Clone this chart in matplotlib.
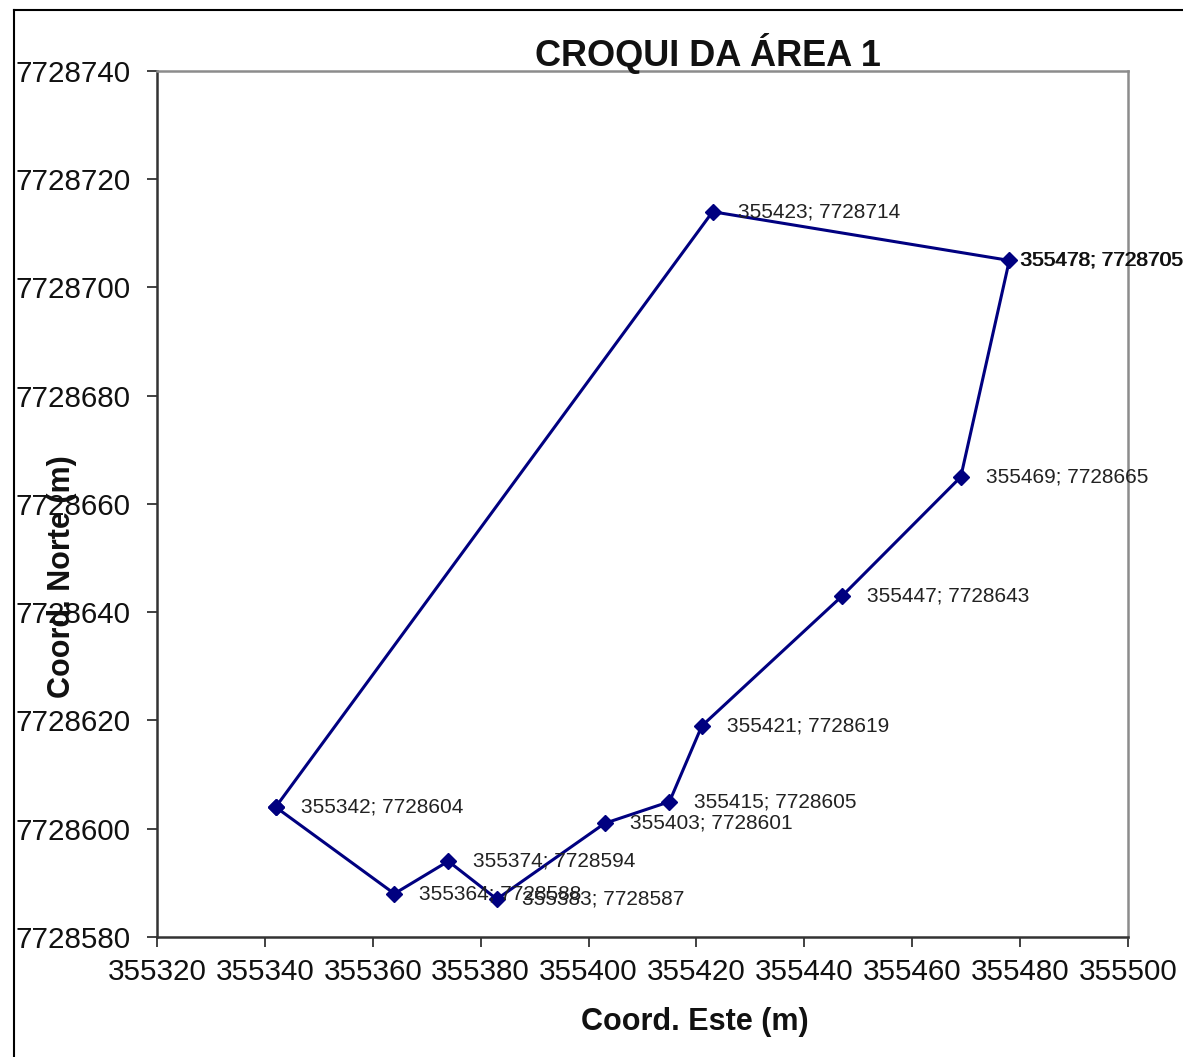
import matplotlib
matplotlib.use('Agg')
import matplotlib.pyplot as plt
from matplotlib.lines import Line2D

plt.rcParams['font.family'] = ['Liberation Sans', 'DejaVu Sans']

# vertices of the polygon (closed back to the first point)
este = [355342, 355364, 355374, 355383, 355403, 355415, 355421, 355447, 355469, 355478, 355423, 355342]
norte = [7728604, 7728588, 7728594, 7728587, 7728601, 7728605, 7728619, 7728643, 7728665, 7728705, 7728714, 7728604]

xticks = list(range(355320, 355501, 20))
yticks = list(range(7728580, 7728741, 20))

fig = plt.figure(figsize=(11.83, 10.57), dpi=100)
ax = fig.add_axes([157 / 1183, 1 - 937 / 1057, 971 / 1183, 866 / 1057])

ax.plot(este, norte, color='#000080', lw=2.2, marker='D', markersize=8,
        markerfacecolor='#000080', markeredgecolor='#000080')

for x, y in zip(este[:-1], norte[:-1]):
    txt = '%d; %d' % (x, y)
    if x == 355478:
        # this label sits closer to its point and is drawn twice, so it looks heavier
        for dx in (8, 8.6):
            ax.annotate(txt, (x, y), xytext=(dx, 0), textcoords='offset points',
                        va='center', ha='left', fontsize=15, color='#111111')
    else:
        ax.annotate(txt, (x, y), xytext=(18, 0), textcoords='offset points',
                    va='center', ha='left', fontsize=15, color='#222222')

ax.set_xlim(355320, 355500)
ax.set_ylim(7728580, 7728740)
ax.set_xticks(xticks)
ax.set_yticks(yticks)
ax.ticklabel_format(useOffset=False, style='plain')
ax.tick_params(axis='both', direction='out', length=7, width=1.3, labelsize=21.3,
               colors='#333333', labelcolor='#111111')
ax.tick_params(axis='x', pad=8)
ax.tick_params(axis='y', pad=12)

ax.spines['left'].set_color('#333333')
ax.spines['bottom'].set_color('#333333')
ax.spines['top'].set_color('#8c8c8c')
ax.spines['right'].set_color('#8c8c8c')
for s in ax.spines.values():
    s.set_linewidth(1.8)

fig.text(708 / 1183, 1 - 53 / 1057, 'CROQUI DA ÁREA 1', ha='center', va='center',
         fontsize=26, fontweight='bold', color='#111111')
fig.text(695 / 1183, 1 - 1022 / 1057, 'Coord. Este (m)', ha='center', va='center',
         fontsize=22, fontweight='bold', color='#111111')
fig.text(62 / 1183, 1 - 577 / 1057, 'Coord. Norte (m)', ha='center', va='center',
         rotation=90, fontsize=22, fontweight='bold', color='#111111')

# outer chart frame
fig.add_artist(Line2D([14 / 1183, 1.0], [1 - 10 / 1057] * 2, color='black', lw=1.5,
                      transform=fig.transFigure))
fig.add_artist(Line2D([14 / 1183] * 2, [0, 1 - 10 / 1057], color='black', lw=1.5,
                      transform=fig.transFigure))

fig.savefig('out.png', dpi=100)
